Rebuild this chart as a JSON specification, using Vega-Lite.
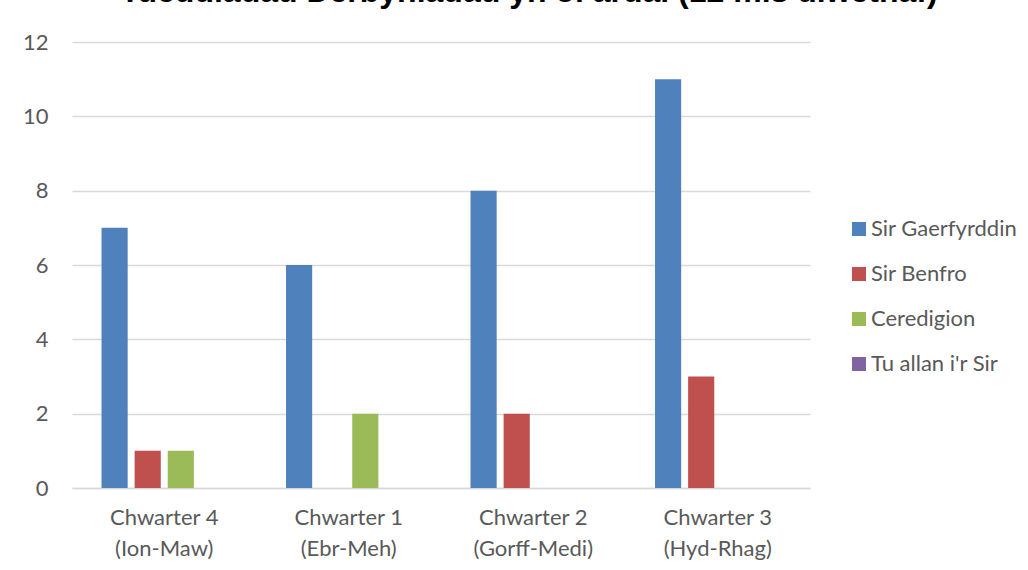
{
  "$schema": "https://vega.github.io/schema/vega-lite/v6.json",
  "autosize": {"type": "none"},
  "width": 738,
  "height": 446,
  "padding": {"left": 72, "top": 42, "right": 218, "bottom": 82},
  "background": "white",
  "title": {
    "text": "Tueddiadau Derbyniadau yn ôl ardal (12 mis diwethaf)",
    "font": "Liberation Sans",
    "fontSize": 32,
    "fontWeight": "bold",
    "color": "#000000",
    "anchor": "middle",
    "frame": "group",
    "dx": 88,
    "dy": 3,
    "offset": 0,
    "baseline": "alphabetic"
  },
  "data": {
    "values": [
      {"q": "Chwarter 4|(Ion-Maw)", "area": "Sir Gaerfyrddin", "v": 7},
      {"q": "Chwarter 4|(Ion-Maw)", "area": "Sir Benfro", "v": 1},
      {"q": "Chwarter 4|(Ion-Maw)", "area": "Ceredigion", "v": 1},
      {"q": "Chwarter 4|(Ion-Maw)", "area": "Tu allan i'r Sir", "v": 0},
      {"q": "Chwarter 1|(Ebr-Meh)", "area": "Sir Gaerfyrddin", "v": 6},
      {"q": "Chwarter 1|(Ebr-Meh)", "area": "Sir Benfro", "v": 0},
      {"q": "Chwarter 1|(Ebr-Meh)", "area": "Ceredigion", "v": 2},
      {"q": "Chwarter 1|(Ebr-Meh)", "area": "Tu allan i'r Sir", "v": 0},
      {"q": "Chwarter 2|(Gorff-Medi)", "area": "Sir Gaerfyrddin", "v": 8},
      {"q": "Chwarter 2|(Gorff-Medi)", "area": "Sir Benfro", "v": 2},
      {"q": "Chwarter 2|(Gorff-Medi)", "area": "Ceredigion", "v": 0},
      {"q": "Chwarter 2|(Gorff-Medi)", "area": "Tu allan i'r Sir", "v": 0},
      {"q": "Chwarter 3|(Hyd-Rhag)", "area": "Sir Gaerfyrddin", "v": 11},
      {"q": "Chwarter 3|(Hyd-Rhag)", "area": "Sir Benfro", "v": 3},
      {"q": "Chwarter 3|(Hyd-Rhag)", "area": "Ceredigion", "v": 0},
      {"q": "Chwarter 3|(Hyd-Rhag)", "area": "Tu allan i'r Sir", "v": 0}
    ]
  },
  "mark": {"type": "bar"},
  "encoding": {
    "x": {
      "field": "q",
      "type": "nominal",
      "sort": ["Chwarter 4|(Ion-Maw)", "Chwarter 1|(Ebr-Meh)", "Chwarter 2|(Gorff-Medi)", "Chwarter 3|(Hyd-Rhag)"],
      "scale": {"paddingInner": 0.32, "paddingOuter": 0.16},
      "axis": {
        "title": null,
        "labelAngle": 0,
        "labelExpr": "split(datum.value, '|')",
        "labelFont": "Lato",
        "labelFontSize": 22,
        "labelColor": "#595959",
        "labelLineHeight": 31,
        "labelPadding": 19,
        "ticks": false,
        "domainColor": "#d9d9d9",
        "domainWidth": 1.5,
        "grid": false
      }
    },
    "xOffset": {
      "field": "area",
      "type": "nominal",
      "sort": ["Sir Gaerfyrddin", "Sir Benfro", "Ceredigion", "Tu allan i'r Sir"],
      "scale": {"paddingInner": 0.21, "paddingOuter": 0}
    },
    "y": {
      "field": "v",
      "type": "quantitative",
      "scale": {"domain": [0, 12]},
      "axis": {
        "title": null,
        "values": [0, 2, 4, 6, 8, 10, 12],
        "labelFont": "Lato",
        "labelFontSize": 22,
        "labelColor": "#595959",
        "labelPadding": 24,
        "ticks": false,
        "domain": false,
        "gridColor": "#d9d9d9",
        "gridWidth": 1.5
      }
    },
    "color": {
      "field": "area",
      "type": "nominal",
      "sort": ["Sir Gaerfyrddin", "Sir Benfro", "Ceredigion", "Tu allan i'r Sir"],
      "scale": {
        "domain": ["Sir Gaerfyrddin", "Sir Benfro", "Ceredigion", "Tu allan i'r Sir"],
        "range": ["#4f81bd", "#c0504d", "#9bbb59", "#8064a2"]
      },
      "legend": {
        "title": null,
        "orient": "none",
        "legendX": 776,
        "legendY": 176,
        "symbolType": "square",
        "symbolSize": 196,
        "symbolStrokeWidth": 0,
        "labelFont": "Lato",
        "labelFontSize": 22,
        "labelColor": "#595959",
        "labelOffset": 1,
        "rowPadding": 23
      }
    }
  },
  "config": {"view": {"stroke": null}}
}
